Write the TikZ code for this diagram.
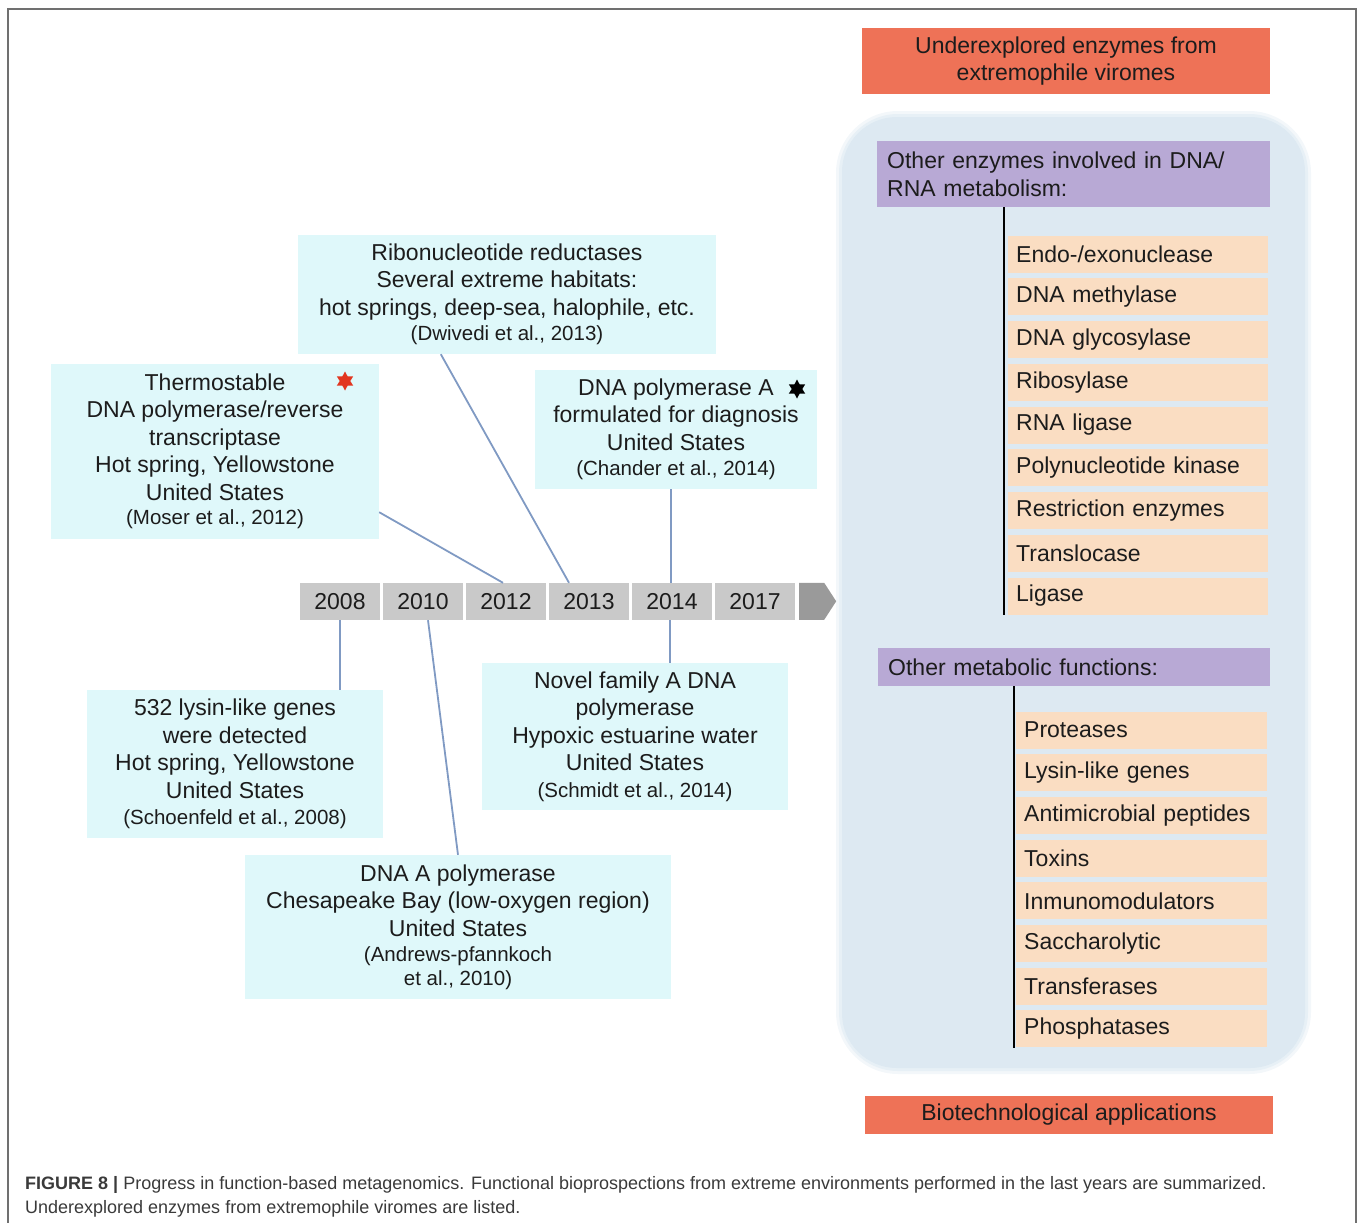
\documentclass[tikz,border=0pt]{standalone}
\usepackage{fontspec}
\setmainfont{Liberation Sans}
\usepackage{xcolor}
\usetikzlibrary{calc,shapes.geometric}
\definecolor{ink}{HTML}{1C1C1C}
\definecolor{cyanbg}{HTML}{DFF8FA}
\definecolor{peach}{HTML}{FADDC2}
\definecolor{lav}{HTML}{B8A9D5}
\definecolor{coral}{HTML}{EE7257}
\definecolor{panel}{HTML}{DDE9F2}
\definecolor{yrgry}{HTML}{C9C9C9}
\definecolor{tipgry}{HTML}{9A9A9A}
\definecolor{lnk}{HTML}{809AC3}
\definecolor{frm}{HTML}{707070}
\definecolor{capink}{HTML}{3A3A3A}
\definecolor{starred}{HTML}{E2361F}
\newcommand{\reftxt}[1]{{\fontsize{20.5}{24}\selectfont #1}}

\begin{document}
\begin{tikzpicture}[x=1pt,y=-1pt,font=\fontsize{23}{27.5}\selectfont,text=ink,
  event/.style={fill=cyanbg,align=center,inner sep=0pt},
  year/.style={fill=yrgry,minimum width=80,minimum height=37,inner sep=0pt},
  item/.style={fill=peach,minimum height=37,inner xsep=8,inner ysep=0,align=left,text width=#1},
  head/.style={fill=lav,inner xsep=10,inner ysep=0,align=left,anchor=north west},
  banner/.style={fill=coral,align=center,inner sep=0pt},
  mark6/.style={star,star points=6,star point ratio=1.8,minimum size=19,inner sep=0pt},
  link/.style={lnk,line width=1.8pt},
  spine/.style={black,line width=2.6pt}]
\useasboundingbox (0,0) rectangle (1358,1223);
% outer frame, open at the bottom
\draw[frm,line width=1.3pt] (8,1223) -- (8,9) -- (1356,9) -- (1356,1223);

% right column
\node[banner,minimum width=408,minimum height=66] (topbar) at (1066,61)
  {Underexplored enzymes from\\extremophile viromes};
\fill[panel!35,rounded corners=62] (836,111) rectangle (1311,1074);
\fill[panel!70,rounded corners=59] (839,114) rectangle (1308,1071);
\fill[panel,rounded corners=55] (842,117) rectangle (1305,1068);
\node[head,minimum width=393,minimum height=66,text width=373] (hdr1) at (877,141)
  {Other enzymes involved in DNA/\\RNA metabolism:};
\foreach \t [count=\i] in {Endo-/exonuclease,DNA methylase,DNA glycosylase,
    Ribosylase,RNA ligase,Polynucleotide kinase,Restriction enzymes,Translocase,Ligase}
  \node[item=244,anchor=west] (a\i) at (1008,{254+42.75*(\i-1)}) {\t};
\draw[spine] ($(a1.west |- hdr1.south)+(-4,0)$) -- ($(a9.south west)+(-4,0)$);

\node[head,minimum width=392,minimum height=38,text width=372] (hdr2) at (878,648)
  {Other metabolic functions:};
\foreach \t [count=\i] in {Proteases,Lysin-like genes,Antimicrobial peptides,Toxins,
    Inmunomodulators,Saccharolytic,Transferases,Phosphatases}
  \node[item=235,anchor=west] (b\i) at (1016,{730+42.7*(\i-1)}) {\t};
\draw[spine] ($(b1.west |- hdr2.south)+(-2,0)$) -- ($(b8.south west)+(-2,0)$);

\node[banner,minimum width=408,minimum height=38] (botbar) at (1069,1115)
  {Biotechnological applications};

% timeline
\foreach \yr [count=\i] in {2008,2010,2012,2013,2014,2017}
  \node[year] (y\yr) at ({340+83*(\i-1)},601.5) {\yr};
\fill[tipgry] ($(y2017.north east)+(4,0)$) -- ++(25,0) -- ++(12,18.5) -- ++(-12,18.5)
  -- ++(-25,0) -- cycle;

% events above the line
\node[event,minimum width=418,minimum height=119] (ribo) at (507,294.5)
  {Ribonucleotide reductases\\Several extreme habitats:\\hot springs, deep-sea, halophile, etc.\\[-2pt]\reftxt{(Dwivedi et al., 2013)}};
\node[event,minimum width=328,minimum height=175] (thermo) at (215,451.5)
  {Thermostable\\DNA polymerase/reverse\\transcriptase\\Hot spring, Yellowstone\\United States\\[-3pt]\reftxt{(Moser et al., 2012)}};
\node[mark6,fill=starred] (redstar) at (345,381) {};
\node[event,minimum width=282,minimum height=119] (diag) at (676,429.5)
  {DNA polymerase A\\formulated for diagnosis\\United States\\[-2pt]\reftxt{(Chander et al., 2014)}};
\node[mark6,fill=black] (blkstar) at (797,389) {};

% events below the line
\node[event,minimum width=296,minimum height=148] (lysin) at (235,764)
  {532 lysin-like genes\\were detected\\Hot spring, Yellowstone\\United States\\[-1pt]\reftxt{(Schoenfeld et al., 2008)}};
\node[event,minimum width=306,minimum height=147] (novel) at (635,736.5)
  {Novel family A DNA\\polymerase\\Hypoxic estuarine water\\United States\\[-1pt]\reftxt{(Schmidt et al., 2014)}};
\node[event,minimum width=426,minimum height=144] (chesa) at (458,927)
  {DNA A polymerase\\Chesapeake Bay (low-oxygen region)\\United States\\[-2pt]\reftxt{(Andrews-pfannkoch}\\[-4pt]\reftxt{et al., 2010)}};

% connectors
\draw[link] ([yshift=27]thermo.south east) -- ([xshift=-3]y2012.north);
\draw[link] ([xshift=143]ribo.south west) -- ([xshift=-20]y2013.north);
\draw[link] ([xshift=-5]diag.south) -- ([xshift=-1]y2014.north);
\draw[link] (y2008.south) -- (y2008.south |- lysin.north);
\draw[link] ([xshift=5]y2010.south) -- (chesa.north);
\draw[link] ([xshift=-2]y2014.south) -- ($(y2014.south |- novel.north)+(-2,0)$);

% caption
\node[anchor=north west,align=left,inner sep=0pt,text=capink,
  font=\fontsize{18}{24}\selectfont] (cap) at (25,1176)
  {\textbf{FIGURE 8 |} Progress in function-based metagenomics. Functional bioprospections from extreme environments performed in the last years are summarized.\\Underexplored enzymes from extremophile viromes are listed.};
\end{tikzpicture}
\end{document}
